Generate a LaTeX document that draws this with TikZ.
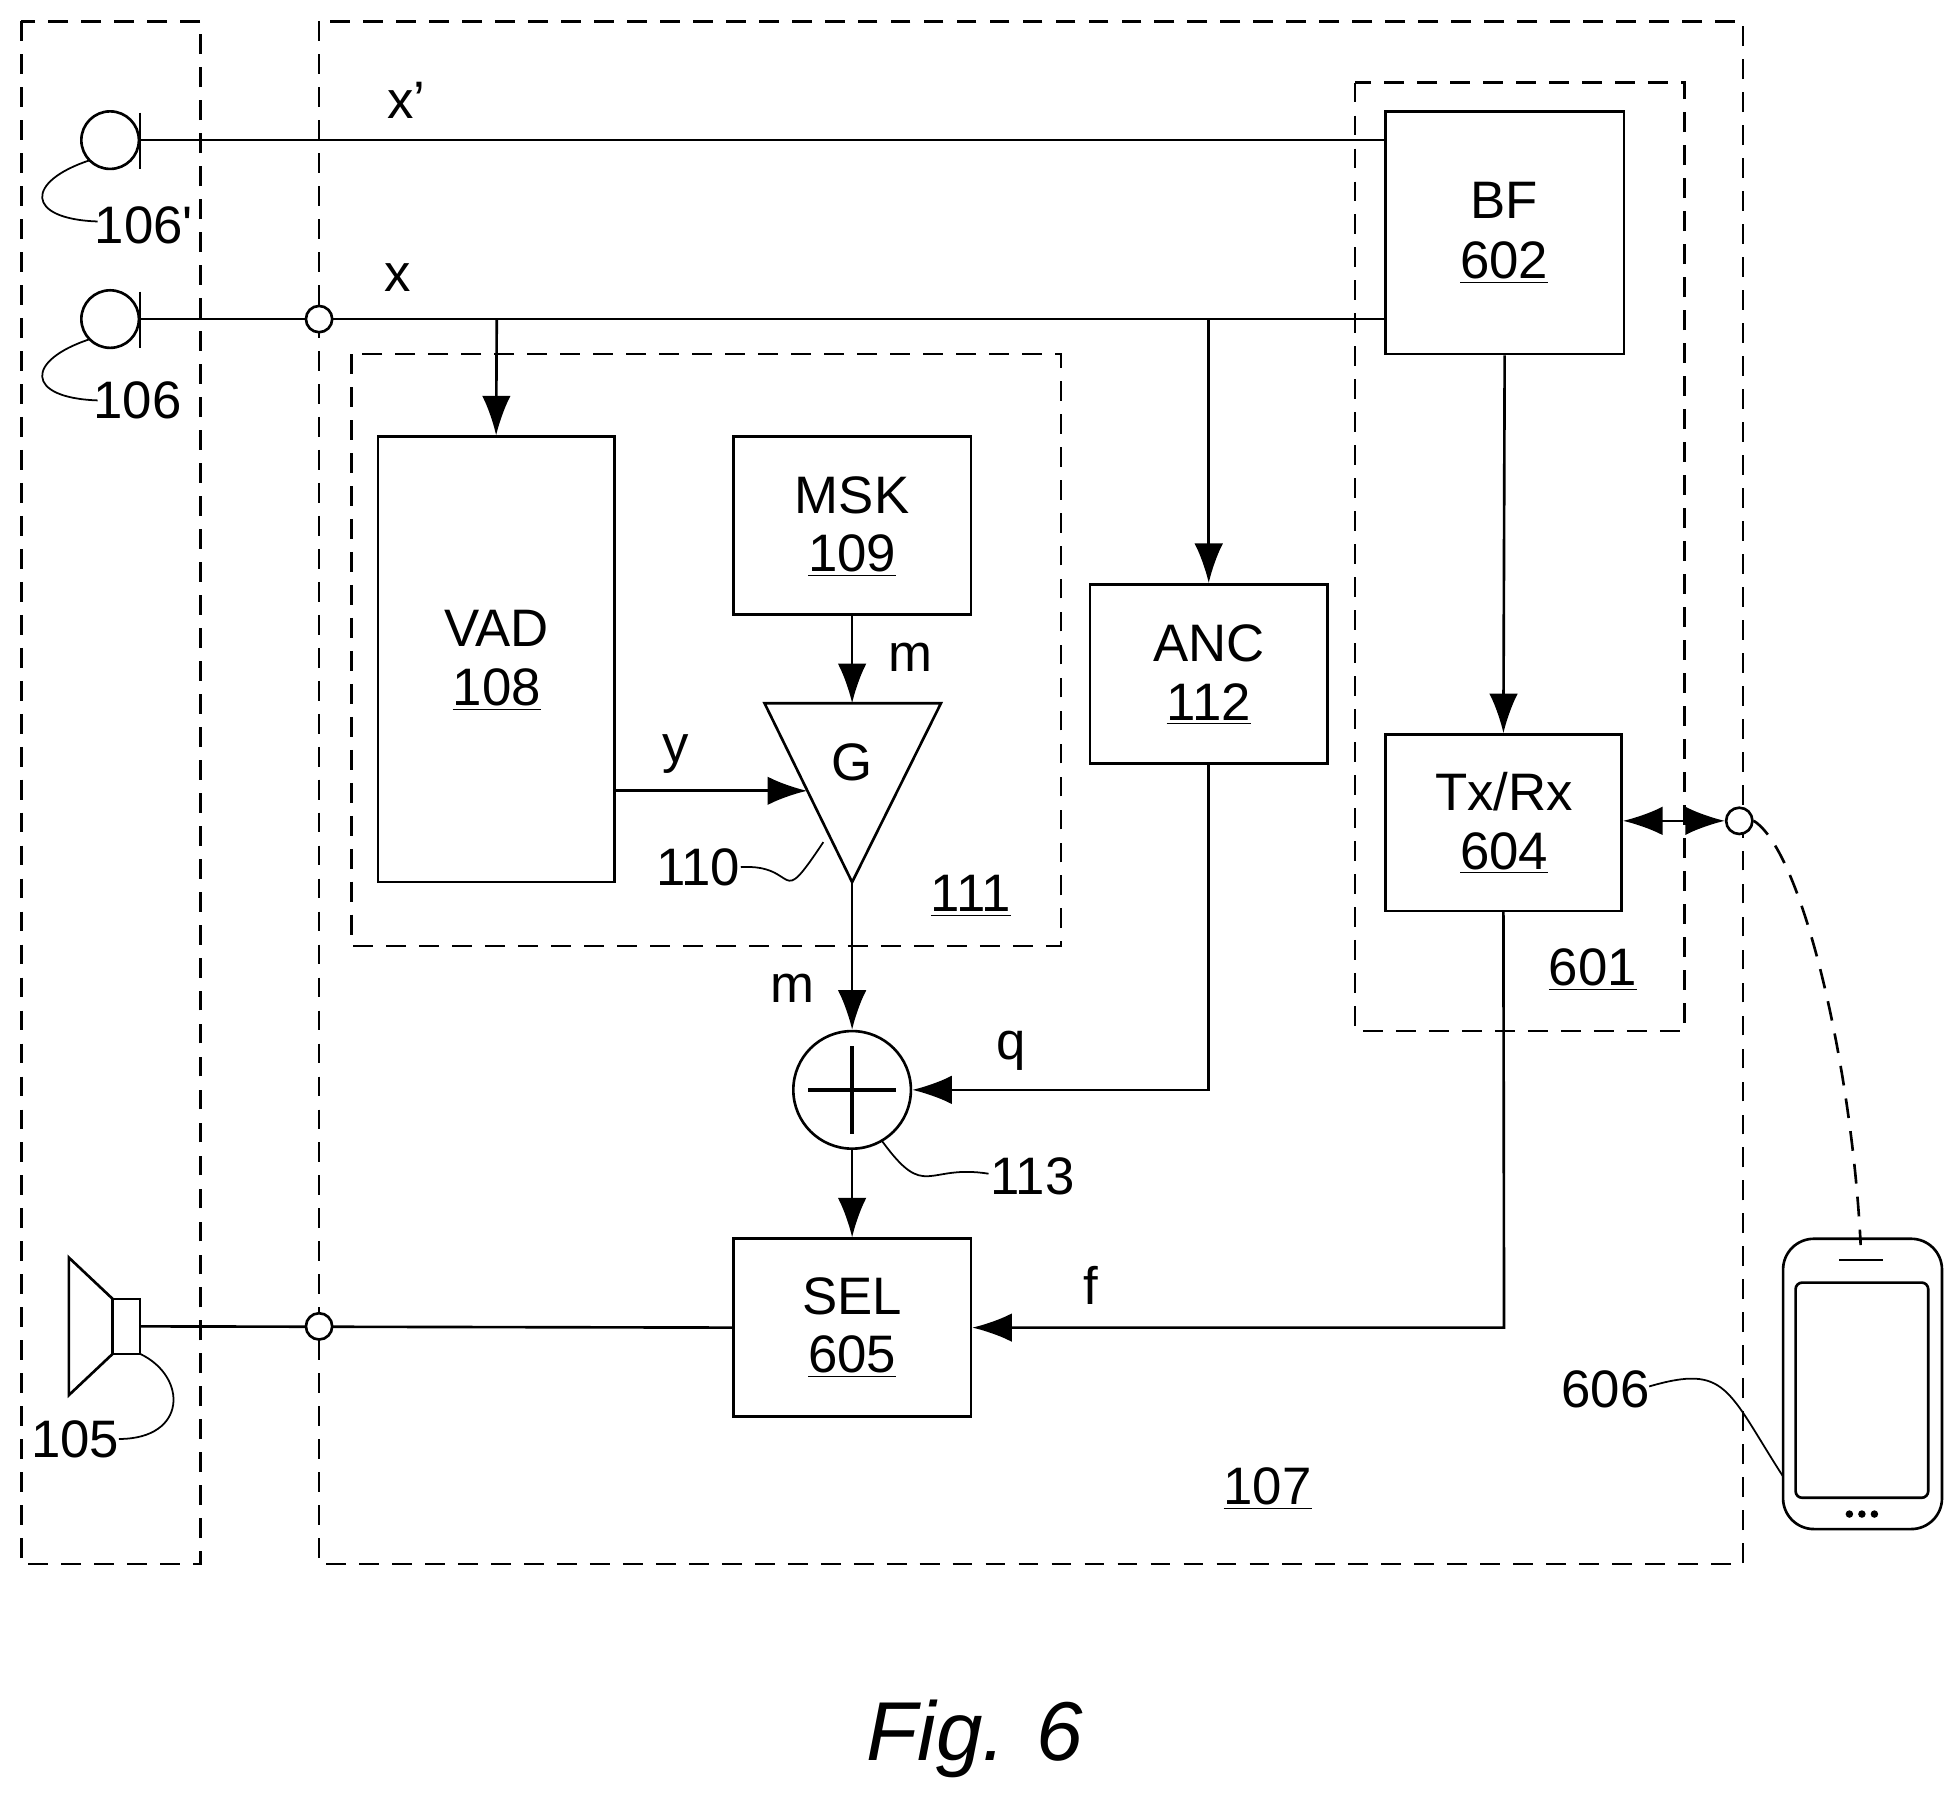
\documentclass[tikz,border=0pt]{standalone}
\usepackage{fontspec}
\setmainfont{Liberation Sans}
\usetikzlibrary{arrows.meta}
\begin{document}
\begin{tikzpicture}[x=0.02cm,y=-0.02cm,line width=1.2pt,
  every node/.style={font=\fontsize{24}{28}\selectfont},
  box/.style={draw,inner sep=0},
  dbox/.style={draw,dash pattern=on 9pt off 6pt},
  arr/.style={-{Latex[length=18pt,width=13pt]}},
  lbl/.style={inner sep=0},
  oc/.style={draw,circle,fill=white,inner sep=0}]
\useasboundingbox (0,0) rectangle (1560,1433);
% dashed boxes
\draw[dbox] (17,17) rectangle (160,1250);
\draw[dbox] (255,17) rectangle (1393,1250);
\draw[dbox] (1083,66) rectangle (1346,824);
\draw[dbox] (281,283) rectangle (848,756);
% blocks
\node[box,minimum width=3.82cm,minimum height=3.88cm] (bf) at (1202.5,186) {};
\node[lbl] at (1202,160) {BF};\node[lbl] at (1202,210) {\underline{602}};
\node[box,minimum width=3.78cm,minimum height=2.82cm] (tx) at (1201.5,657.5) {};
\node[lbl] at (1202,633) {Tx/Rx};\node[lbl] at (1202,682) {\underline{604}};
\node[box,minimum width=3.78cm,minimum height=7.12cm] (vad) at (396.5,527) {};
\node[lbl] at (397,502) {VAD};\node[lbl] at (397,551) {\underline{108}};
\node[box,minimum width=3.8cm,minimum height=2.84cm] (msk) at (681,420) {};
\node[lbl] at (681,396) {MSK};\node[lbl] at (681,444) {\underline{109}};
\node[box,minimum width=3.8cm,minimum height=2.86cm] (anc) at (966,538.5) {};
\node[lbl] at (966,514) {ANC};\node[lbl] at (966,563) {\underline{112}};
\node[box,minimum width=3.8cm,minimum height=2.84cm] (sel) at (681,1061) {};
\node[lbl] at (681,1036) {SEL};\node[lbl] at (681,1084) {\underline{605}};
% triangle
\draw (611,562) -- (752,562) -- (681,705) -- cycle;
\node[lbl] at (681,609) {G};
\coordinate (gin) at (645,632);
% sum
\node[draw,circle,minimum size=1.88cm,inner sep=0] (sum) at (681,871) {};
\draw[line width=2pt] (681,836) -- (681,906) (646,871) -- (716,871);
% mics
\draw (88,112) circle (23); \draw (112,90) -- (112,135);
\draw (88,255) circle (23); \draw (112,233) -- (112,278);
\coordinate (m1) at (112,112); \coordinate (m2) at (112,255);
\draw (m1) -- (bf.west |- m1);
\draw (m2) -- (bf.west |- m2);
\node[oc,minimum size=0.42cm] (j1) at (255,255) {};
\node[lbl] at (325,80) {x’};
\node[lbl] at (318,222) {x};
\draw[arr] (397,255) -- (vad.north);
\draw[arr] (966,255) -- (anc.north);
\draw[arr] (bf.south) -- (tx.north);
\draw[arr] (msk.south) -- (681,562);
\node[lbl] at (728,525) {m};
\draw[arr] (vad.east |- gin) -- (gin);
\node[lbl] at (540,603) {y};
\draw[arr] (681,705) -- (sum.north);
\node[lbl] at (633,790) {m};
\draw[arr] (anc.south) -- (966,871) -- (sum.east);
\node[lbl] at (808,840) {q};
\draw[arr] (sum.south) -- (sel.north);
\draw[arr] (tx.south) -- (1202,1061) -- (sel.east);
\node[lbl] at (872,1027) {f};
% speaker
\draw (90,1038) rectangle (112,1082);
\draw (90,1038) -- (55,1005) -- (55,1115) -- (90,1082);
\coordinate (spk) at (112,1060);
\draw (sel.west) -- (spk);
\node[oc,minimum size=0.42cm] (j2) at (255,1060) {};
% tx/rx to phone
\node[oc,minimum size=0.42cm] (ant) at (1390,656) {};
\draw[{Latex[length=18pt,width=13pt]}-{Latex[length=18pt,width=13pt]}] (tx.east |- ant) -- (ant.west);
\draw[dash pattern=on 9pt off 6pt] (ant.east) .. controls (1440,680) and (1480,850) .. (1487,995);
% phone
\draw[rounded corners=14pt] (1425,990) rectangle (1552,1222);
\draw[rounded corners=3pt] (1435,1025) rectangle (1541,1197);
\draw (1470,1007) -- (1505,1007);
\foreach \dx in {-10,0,10} \fill (1488+\dx,1210) circle (3);
% labels and leaders
\node[lbl] at (115,180) {106\textquotesingle};
\draw[line width=0.8pt] (72,128) .. controls (20,145) and (20,175) .. (78,177);
\node[lbl] at (110,320) {106};
\draw[line width=0.8pt] (72,271) .. controls (20,288) and (20,318) .. (78,320);
\node[lbl] at (60,1150) {105};
\draw[line width=0.8pt] (112,1082) .. controls (150,1100) and (150,1150) .. (95,1150);
\node[lbl] at (558,693) {110};
\draw[line width=0.8pt] (592,693) .. controls (640,690) and (620,730) .. (658,673);
\node[lbl] at (776,716) {\underline{111}};
\node[lbl] at (825,940) {113};
\draw[line width=0.8pt] (705,912) .. controls (740,960) and (740,930) .. (790,938);
\node[lbl] at (1273,775) {\underline{601}};
\node[lbl] at (1283,1110) {606};
\draw[line width=0.8pt] (1318,1108) .. controls (1380,1090) and (1380,1110) .. (1425,1180);
\node[lbl] at (1013,1190) {\underline{107}};
\node[lbl,font=\fontsize{38}{44}\selectfont\itshape] at (779,1390) {Fig. 6};
\end{tikzpicture}
\end{document}
